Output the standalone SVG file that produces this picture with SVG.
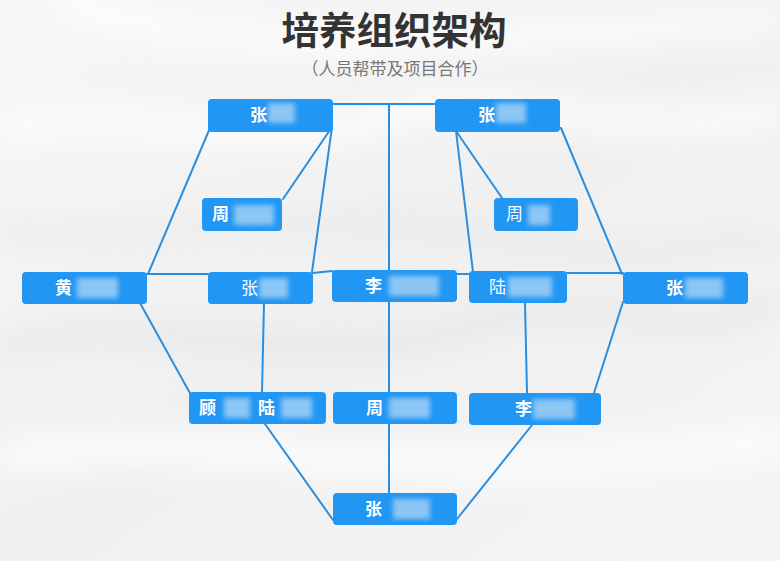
<svg xmlns="http://www.w3.org/2000/svg" width="780" height="561" viewBox="0 0 780 561">
<style>
.nd{fill:#2196f3;}
.t{fill:#fff;font-family:"Noto Sans CJK SC","Noto Sans",sans-serif;font-size:17px;font-weight:700;}
.r{font-weight:400;}
.blur{fill:#8cc6f5;filter:url(#bl);}
.cn line{stroke:#2a8ee0;stroke-width:2;stroke-linecap:round;}
</style>
<defs>
<filter id="bl" x="-30%" y="-30%" width="160%" height="160%"><feGaussianBlur stdDeviation="2.5"/></filter>
<filter id="bg" x="-10%" y="-10%" width="120%" height="120%"><feGaussianBlur stdDeviation="14"/></filter>
<linearGradient id="pg" x1="0" y1="0" x2="1" y2="1"><stop offset="0" stop-color="#f7f7f7"/><stop offset="0.5" stop-color="#f0f0f0"/><stop offset="1" stop-color="#f5f5f5"/></linearGradient>
</defs>
<rect width="780" height="561" fill="url(#pg)"/>
<g filter="url(#bg)" opacity="0.7">
<path d="M0 130 C120 100 250 160 380 120 S620 150 780 110" stroke="#ffffff" stroke-width="30" fill="none"/>
<path d="M0 350 C160 300 300 380 460 330 S680 360 780 300" stroke="#e4e4e4" stroke-width="22" fill="none"/>
<path d="M0 460 C200 420 420 500 780 440" stroke="#ffffff" stroke-width="36" fill="none"/>
<path d="M60 0 C200 60 500 40 780 20" stroke="#ffffff" stroke-width="30" fill="none"/>
<path d="M0 230 C140 250 330 200 520 240 S700 220 780 250" stroke="#e6e6e6" stroke-width="18" fill="none"/>
</g>
<g id="title">
<text x="394" y="44" text-anchor="middle" font-family="'Noto Sans CJK SC','Noto Sans',sans-serif" font-size="37.5" font-weight="700" fill="#333333">培养组织架构</text>
<text x="395" y="75" text-anchor="middle" font-family="'Noto Sans CJK SC','Noto Sans',sans-serif" font-size="17" fill="#777777">（人员帮带及项目合作）</text>
</g>
<g class="cn" id="connectors">
<line x1="333" y1="104" x2="435" y2="104"/>
<line x1="389" y1="104" x2="389" y2="493"/>
<line x1="210" y1="128" x2="148" y2="274"/>
<line x1="332" y1="127" x2="283" y2="199"/>
<line x1="332" y1="127" x2="312" y2="272"/>
<line x1="147" y1="274" x2="208" y2="274"/>
<line x1="313" y1="273" x2="332" y2="271"/>
<line x1="264" y1="303" x2="262" y2="392"/>
<line x1="140" y1="303" x2="191" y2="395"/>
<line x1="265" y1="424" x2="333" y2="520"/>
<line x1="532" y1="425" x2="457" y2="519"/>
<line x1="456" y1="131" x2="473" y2="272"/>
<line x1="456" y1="131" x2="502" y2="198"/>
<line x1="561" y1="128" x2="622" y2="274"/>
<line x1="457" y1="274" x2="469" y2="274"/>
<line x1="567" y1="273" x2="623" y2="273"/>
<line x1="525" y1="303" x2="527" y2="393"/>
<line x1="623" y1="302" x2="594" y2="393"/>
</g>
<g id="n-zhang-tl"><rect class="nd" x="208" y="99" width="125" height="33" rx="4"/><rect class="blur" x="268" y="103" width="27" height="20"/><text class="t" x="250" y="121">张</text></g>
<g id="n-zhou-l"><rect class="nd" x="202" y="198" width="80" height="33" rx="4"/><rect class="blur" x="234" y="205" width="40" height="20"/><text class="t" x="212" y="220">周</text></g>
<g id="n-huang"><rect class="nd" x="22" y="272" width="125" height="32" rx="4"/><rect class="blur" x="77" y="278" width="41" height="20"/><text class="t" x="55" y="294">黄</text></g>
<g id="n-zhang-m"><rect class="nd" x="208" y="272" width="105" height="32" rx="4"/><rect class="blur" x="259" y="278" width="29" height="20"/><text class="t r" x="241" y="294">张</text></g>
<g id="n-li-c"><rect class="nd" x="332" y="270" width="125" height="32" rx="4"/><rect class="blur" x="389" y="276" width="50" height="20"/><text class="t" x="365" y="292">李</text></g>
<g id="n-zhang-tr"><rect class="nd" x="435" y="99" width="125" height="33" rx="4"/><rect class="blur" x="496" y="103" width="30" height="20"/><text class="t" x="478" y="121">张</text></g>
<g id="n-zhou-r"><rect class="nd" x="494" y="198" width="84" height="33" rx="4"/><rect class="blur" x="528" y="205" width="22" height="20"/><text class="t r" x="506" y="220">周</text></g>
<g id="n-lu"><rect class="nd" x="469" y="271" width="98" height="32" rx="4"/><rect class="blur" x="508" y="277" width="44" height="20"/><text class="t r" x="489" y="293">陆</text></g>
<g id="n-zhang-r"><rect class="nd" x="623" y="272" width="125" height="32" rx="4"/><rect class="blur" x="685" y="278" width="38" height="20"/><text class="t" x="666" y="294">张</text></g>
<g id="n-gu-lu"><rect class="nd" x="189" y="392" width="137" height="32" rx="4"/><rect class="blur" x="224" y="398" width="26" height="20"/><rect class="blur" x="281" y="398" width="31" height="20"/><text class="t" x="199" y="414">顾</text><text class="t" x="258" y="414">陆</text></g>
<g id="n-zhou-b"><rect class="nd" x="333" y="392" width="124" height="32" rx="4"/><rect class="blur" x="389" y="398" width="41" height="20"/><text class="t" x="366" y="414">周</text></g>
<g id="n-li-b"><rect class="nd" x="469" y="393" width="132" height="32" rx="4"/><rect class="blur" x="533" y="399" width="42" height="20"/><text class="t" x="515" y="415">李</text></g>
<g id="n-zhang-b"><rect class="nd" x="333" y="493" width="124" height="32" rx="4"/><rect class="blur" x="393" y="499" width="37" height="20"/><text class="t" x="365" y="515">张</text></g>
</svg>
